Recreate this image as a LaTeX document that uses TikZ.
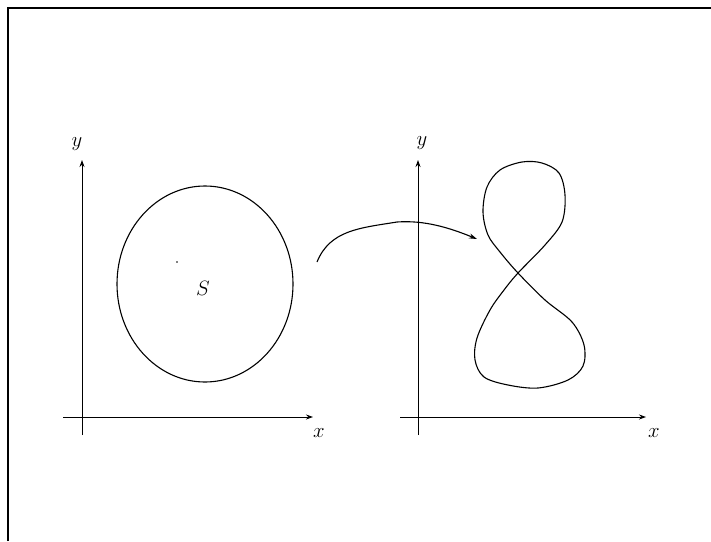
\documentclass[tikz,border=0pt]{standalone}
\usetikzlibrary{arrows.meta,shapes.geometric}
\begin{document}
\begin{tikzpicture}[x=1pt,y=-1pt,
  axis/.style={line width=0.9pt,-{Stealth[length=7pt,width=5pt]}},
  curve/.style={line width=1.1pt},
  lbl/.style={font=\fontsize{21}{24}\selectfont,inner sep=0pt}]
\useasboundingbox (0,0) rectangle (711,541);
% frame (top and left)
\draw[line width=1.5pt] (8,541) -- (8,8) -- (711,8);
% left axes
\coordinate (ly0) at (82,435); \coordinate (ly1) at (82,160);
\coordinate (lx0) at (63,417); \coordinate (lx1) at (313,417);
\draw[axis] (ly0) -- (ly1);
\draw[axis] (lx0) -- (lx1);
\node[lbl] (ylabL) at (77,144) {$y$};
\node[lbl] (xlabL) at (319,433) {$x$};
% region S
\node[ellipse,draw,curve,minimum width=176pt,minimum height=196pt,inner sep=0pt] (S) at (205,284) {};
\node[lbl] (Slab) at (203,288) {$S$};
\fill (177,262) circle (0.8pt);
% right axes
\coordinate (ry0) at (418,435); \coordinate (ry1) at (418,160);
\coordinate (rx0) at (400,417); \coordinate (rx1) at (646,417);
\draw[axis] (ry0) -- (ry1);
\draw[axis] (rx0) -- (rx1);
\node[lbl] (ylabR) at (422,143) {$y$};
\node[lbl] (xlabR) at (654,433) {$x$};
% figure eight
\draw[curve] plot[smooth cycle,tension=0.55] coordinates {
 (518,273) (545,245) (562,222) (565,195) (559,173) (542,163) (522,162)
 (500,170) (487,187) (483,212) (488,235) (500,252)
 (518,273) (545,300) (572,322) (584,345) (583,366) (568,380) (538,388)
 (508,385) (484,377) (475,360) (477,338) (490,310) (504,290)};
% mapping arrow
\coordinate (a0) at (317,262); \coordinate (a1) at (477,239);
\draw[line width=1.1pt,-{Stealth[length=8pt,width=5pt]}] (a0) .. controls (330,230) and (360,228) .. (397,222) .. controls (425,220) and (450,228) .. (a1);
\end{tikzpicture}
\end{document}
